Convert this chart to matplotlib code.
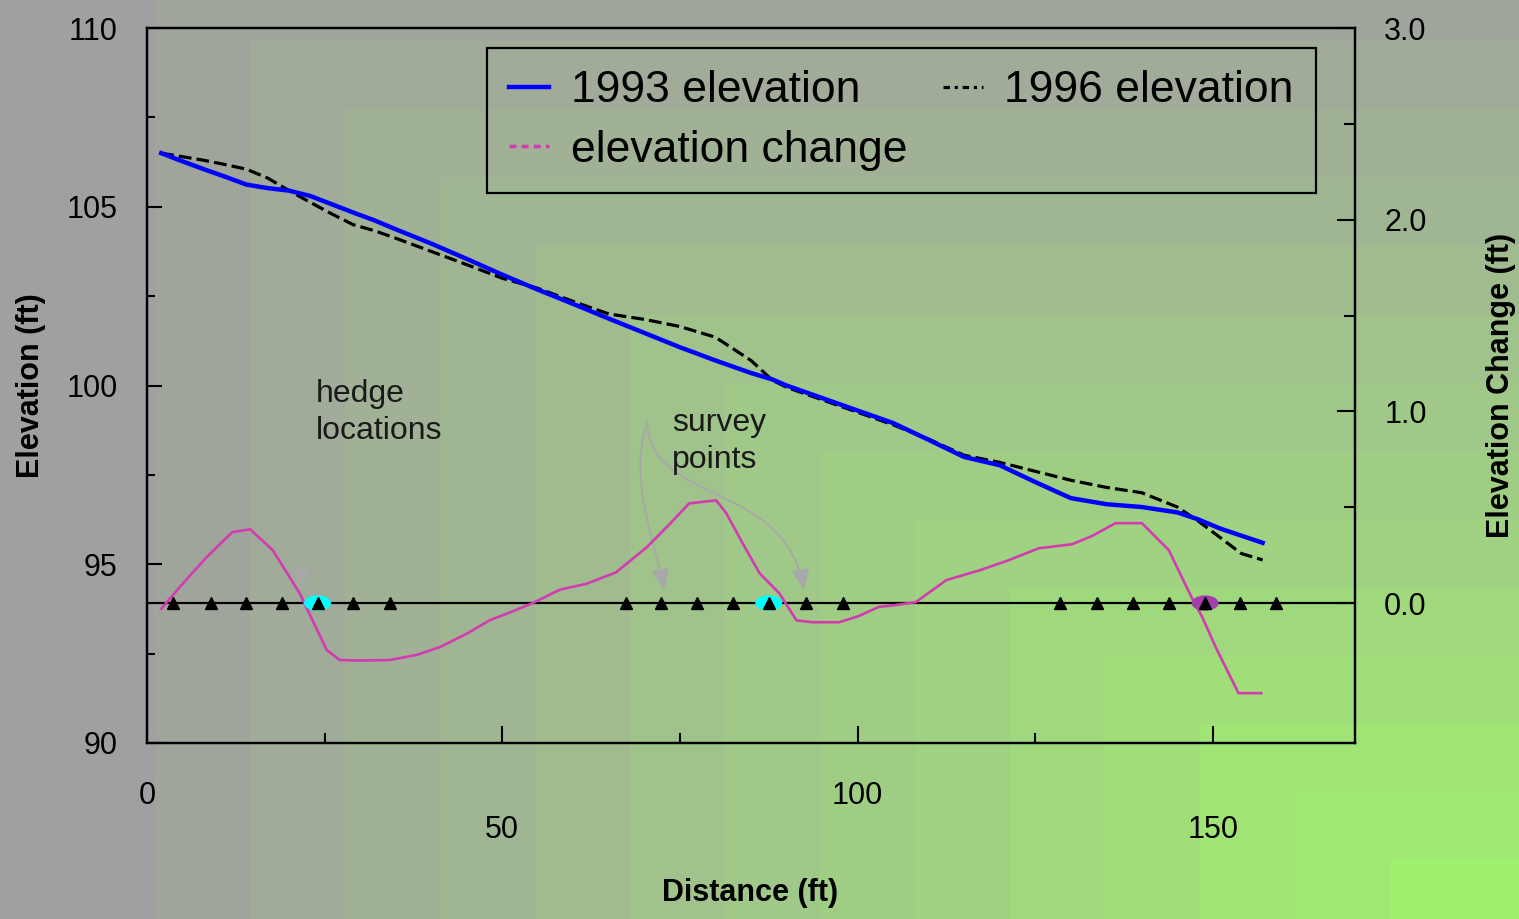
"""Elevation profile 1993 vs 1996 with elevation change and hedge/survey markers"""
import matplotlib
matplotlib.use('Agg')
import matplotlib.pyplot as plt
import matplotlib.patches as mpatches
from matplotlib.lines import Line2D
from matplotlib.path import Path
from matplotlib.ticker import MultipleLocator, FixedLocator
import numpy as np

plt.rcParams['font.family'] = ['Liberation Sans', 'DejaVu Sans']

# ── data ───────────────────────────────────────────────────────────
dist = [2, 5, 8, 11, 14, 17, 20, 23, 26, 29, 32, 35, 40, 45, 50, 55, 60, 65,
        70, 75, 80, 85, 88, 90, 95, 100, 105, 110, 115, 120, 125, 130, 135,
        140, 145, 148, 151, 154, 157]
elev_1993 = [106.5, 106.27, 106.05, 105.84, 105.62, 105.52, 105.45, 105.3,
             105.07, 104.84, 104.62, 104.37, 103.97, 103.54, 103.1, 102.68,
             102.28, 101.87, 101.47, 101.07, 100.7, 100.35, 100.17, 100.0,
             99.65, 99.3, 98.95, 98.48, 98.0, 97.77, 97.3, 96.85, 96.68,
             96.6, 96.45, 96.25, 96.0, 95.8, 95.6]
elev_1996 = [106.5, 106.4, 106.3, 106.18, 106.05, 105.8, 105.45, 105.12,
             104.8, 104.5, 104.33, 104.12, 103.75, 103.38, 103.0, 102.72,
             102.35, 102.0, 101.85, 101.65, 101.35, 100.7, 100.15, 99.95,
             99.6, 99.25, 98.9, 98.5, 98.05, 97.85, 97.6, 97.35, 97.15,
             97.0, 96.6, 96.2, 95.75, 95.3, 95.12]

change_dist = [2, 5, 8.4, 12, 14.5, 17.7, 21.5, 23.3, 25.3, 27.1, 30, 34.2,
               38, 41.2, 45, 48.2, 51, 54.3, 58.1, 61.8, 66, 70.3, 73.5, 76.3,
               80.1, 81.5, 84, 86.2, 89, 91.4, 93.6, 97.4, 100, 103, 105.4,
               108.2, 112.5, 117.1, 121, 125.5, 130.2, 133, 136.3, 140, 143.8,
               147, 148.5, 150.4, 153.6, 156.8]
change = [-0.03, 0.1, 0.24, 0.37, 0.385, 0.276, 0.05, -0.09, -0.245, -0.297,
          -0.3, -0.297, -0.27, -0.23, -0.16, -0.09, -0.05, 0.0, 0.07, 0.1,
          0.16, 0.29, 0.41, 0.52, 0.536, 0.47, 0.3, 0.156, 0.05, -0.09, -0.10,
          -0.10, -0.07, -0.02, -0.01, 0.005, 0.12, 0.17, 0.22, 0.286, 0.307,
          0.35, 0.417, 0.417, 0.276, 0.03, -0.073, -0.23, -0.47, -0.47]

survey_pts = [3.7, 9, 14, 19, 24, 29, 34.2, 67.4, 72.4, 77.4, 82.5, 87.5,
              92.7, 97.9, 128.5, 133.7, 138.8, 143.8, 148.9, 153.8, 158.9]
hedge_pts = [24, 87.5, 148.9]
hedge_colors = ['#00FFFF', '#00FFFF', '#A040A8']

x_ticks = [0, 50, 100, 150]
x_labels = ['0', '\n50', '100', '\n150']

# ── figure & background ────────────────────────────────────────────
W, H = 1519, 919
fig = plt.figure(figsize=(W / 100, H / 100), dpi=100)
bg = fig.add_axes([0, 0, 1, 1], zorder=-10)
xs = np.arange(W)
ys = np.arange(H)
fx = np.clip((xs - 60) / 1330, 0, 1)
gy = np.clip(0.1 + 0.9 * ys / 860, 0, 1)
t = np.minimum(fx[None, :], gy[:, None])
t = np.floor(t * 14) / 14
img = np.dstack([np.full_like(t, 160), 160 + 80 * t, 160 - 48 * t]) / 255
bg.imshow(img, aspect='auto', interpolation='nearest')
bg.axis('off')

ax = fig.add_axes([147 / W, 1 - 743 / H, 1208 / W, 715 / H])
ax.set_facecolor('none')
ax2 = ax.twinx()
ax2.set_facecolor('none')

# elevation lines
ax.plot(dist, elev_1996, color='black', lw=2.3, ls=(0, (4, 1.6)), zorder=3)
ax.plot(dist, elev_1993, color='#0000FF', lw=3.2, zorder=4)

# elevation change on right axis
ax2.axhline(0, color='black', lw=1.6, zorder=2)
ax2.plot(change_dist, change, color='#D23CB0', lw=1.9, zorder=3)
for hx, hc in zip(hedge_pts, hedge_colors):
    ax2.add_patch(mpatches.Ellipse((hx, 0), 3.8, 0.08, facecolor=hc,
                                   edgecolor='none', zorder=4))
ax2.plot(survey_pts, [0] * len(survey_pts), ls='none', marker='^',
         color='black', markersize=9, zorder=5)

# annotations (gray arrows)
def px2d(px, py):
    return ((px - 147) / 1208 * 170, 110 - (py - 28) / 715 * 20)

arrow_paths = [
    [(290, 410), (274, 480), (290, 540), (305, 588)],
    [(647, 422), (628, 480), (655, 540), (664, 590)],
    [(647, 422), (650, 505), (785, 480), (804, 590)],
]
for pts in arrow_paths:
    verts = [px2d(*p) for p in pts]
    path = Path(verts, [Path.MOVETO, Path.CURVE4, Path.CURVE4, Path.CURVE4])
    arr = mpatches.FancyArrowPatch(path=path,
                                   arrowstyle='-|>,head_length=0.7,head_width=0.3',
                                   mutation_scale=18, color='#A8A8A8', lw=1.3,
                                   zorder=2)
    ax.add_patch(arr)

ax.text(23.75, 99.24, 'hedge\nlocations', ha='left', va='center', fontsize=23,
        color='#1A1A1A', linespacing=1.3)
ax.text(73.9, 98.43, 'survey\npoints', ha='left', va='center', fontsize=23,
        color='#1A1A1A', linespacing=1.3)

# axes, ticks
ax.set_xlim(0, 170)
ax.set_ylim(90, 110)
ax2.set_ylim(-0.73, 3.0)

ax.set_xticks(x_ticks)
ax.set_xticklabels(x_labels)
ax.xaxis.set_minor_locator(FixedLocator([25, 75, 125]))
ax.yaxis.set_major_locator(MultipleLocator(5))
ax.yaxis.set_minor_locator(MultipleLocator(2.5))
ax2.yaxis.set_major_locator(FixedLocator([0, 1, 2, 3]))
ax2.yaxis.set_minor_locator(FixedLocator([0.5, 1.5, 2.5]))
ax2.set_yticklabels(['0.0', '1.0', '2.0', '3.0'])

ax.tick_params(axis='x', which='major', direction='in', length=12, width=1.5,
               labelsize=22, pad=27)
ax.tick_params(axis='x', which='minor', direction='in', length=7, width=1.5)
ax.tick_params(axis='y', which='major', direction='in', length=11, width=1.5,
               labelsize=22, pad=21)
ax.tick_params(axis='y', which='minor', direction='in', length=6, width=1.5)
ax2.tick_params(axis='y', which='major', direction='in', length=13, width=1.5,
                labelsize=22, pad=21)
ax2.tick_params(axis='y', which='minor', direction='in', length=8, width=1.5)

for a in (ax, ax2):
    for s in a.spines.values():
        s.set_linewidth(1.6)
        s.set_color('black')

ax.set_xlabel('Distance (ft)', fontsize=22, fontweight='bold')
ax.xaxis.set_label_coords(0.499, -0.189)
ax.set_ylabel('Elevation (ft)', fontsize=22, fontweight='bold')
ax.yaxis.set_label_coords(-0.0836, 0.5)
ax2.set_ylabel('Elevation Change (ft)', fontsize=22, fontweight='bold')
ax2.yaxis.set_label_coords(1.1084, 0.5)

# legend
handles = [
    Line2D([], [], color='#0000FF', lw=3.2),
    Line2D([], [], color='#D23CB0', lw=2.5, ls=(0, (2, 1.5))),
    Line2D([], [], color='black', lw=2.3, ls=(0, (2, 1.5, 1, 1.5))),
]
labels = ['1993 elevation', 'elevation change', '1996 elevation']
leg = ax2.legend(handles, labels, ncol=2, loc='upper left',
                 bbox_to_anchor=(0.2815, 0.972), borderaxespad=0,
                 fontsize=32, handlelength=0.9, handletextpad=0.48,
                 columnspacing=0.8, borderpad=0.5, labelspacing=0.42,
                 fancybox=False, facecolor='none', edgecolor='black',
                 framealpha=1)
leg.get_frame().set_linewidth(1.6)
leg.set_zorder(10)

fig.savefig('out.png', dpi=100)
plt.close(fig)
print('[OK] out.png')
